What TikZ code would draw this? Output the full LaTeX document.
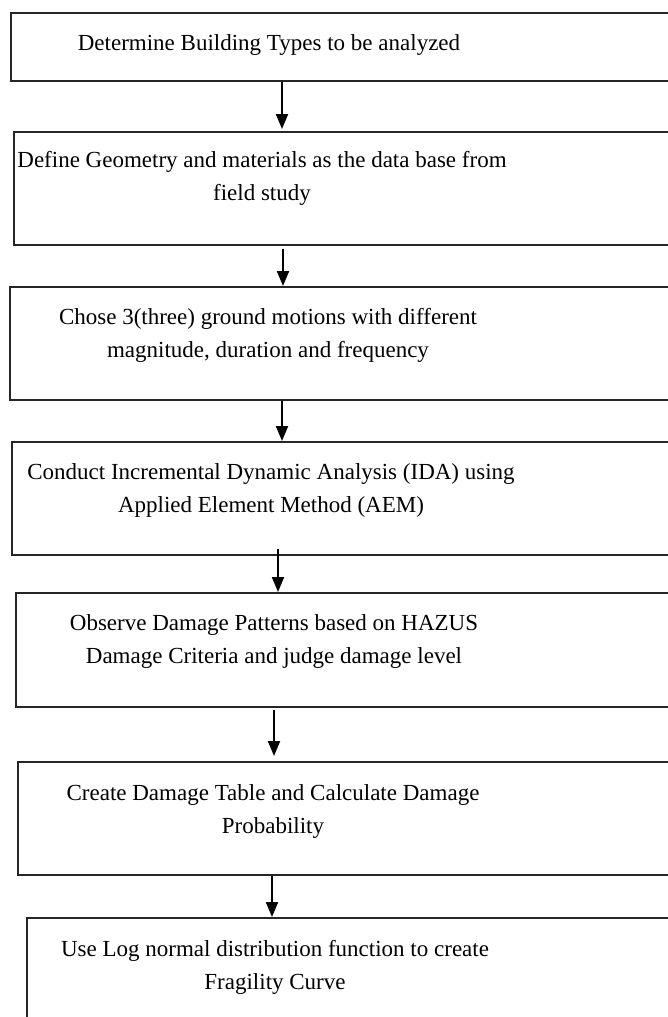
\documentclass[tikz,border=0pt]{standalone}
\usepackage{fontspec}
\setmainfont{Liberation Serif}
\usetikzlibrary{arrows.meta}
\begin{document}
\begin{tikzpicture}[x=1pt,y=-1pt,
  stepbox/.style={draw=black!85, line width=1.5pt, rectangle, inner sep=0pt, anchor=north west},
  steptext/.style={align=center, inner sep=0pt, anchor=base, font=\fontsize{23}{33}\selectfont},
  arr/.style={line width=2pt, -{Triangle[length=15pt,width=12pt]}}]
\useasboundingbox (0,0) rectangle (668,1017);
\clip (0,0) rectangle (668,1017);
\node[stepbox, minimum width=690pt, minimum height=68pt]  (b1) at (10,12) {};
\node[stepbox, minimum width=690pt, minimum height=113pt] (b2) at (13,131) {};
\node[stepbox, minimum width=690pt, minimum height=113pt] (b3) at (9,286) {};
\node[stepbox, minimum width=690pt, minimum height=113pt] (b4) at (11,441) {};
\node[stepbox, minimum width=690pt, minimum height=114pt] (b5) at (15,592) {};
\node[stepbox, minimum width=690pt, minimum height=113pt] (b6) at (17,761) {};
\node[stepbox, minimum width=690pt, minimum height=140pt] (b7) at (26,917) {};
\node[steptext] (t1) at (269,50) {Determine Building Types to be analyzed};
\node[steptext] (t2) at (262,200) {Define Geometry and materials as the data base from\\field study};
\node[steptext] (t3) at (268,357) {Chose 3(three) ground motions with different\\magnitude, duration and frequency};
\node[steptext] (t4) at (271,512) {Conduct Incremental Dynamic Analysis (IDA) using\\Applied Element Method (AEM)};
\node[steptext] (t5) at (274,663) {Observe Damage Patterns based on HAZUS\\Damage Criteria and judge damage level};
\node[steptext] (t6) at (273,833) {Create Damage Table and Calculate Damage\\Probability};
\node[steptext] (t7) at (275,989) {Use Log normal distribution function to create\\Fragility Curve};
\coordinate (x1) at (282,0);
\coordinate (x2) at (283,0);
\coordinate (x3) at (282,0);
\coordinate (x4) at (278,0);
\coordinate (x5) at (274,0);
\coordinate (x6) at (272,0);
\draw[arr, shorten >=2pt] (b1.south -| x1) -- (b2.north -| x1);
\draw[arr, shorten <=3pt] (b2.south -| x2) -- (b3.north -| x2);
\draw[arr] (b3.south -| x3) -- (b4.north -| x3);
\draw[arr, shorten <=-7pt] (b4.south -| x4) -- (b5.north -| x4);
\draw[arr, shorten <=2pt, shorten >=5pt] (b5.south -| x5) -- (b6.north -| x5);
\draw[arr] (b6.south -| x6) -- (b7.north -| x6);
\end{tikzpicture}
\end{document}
